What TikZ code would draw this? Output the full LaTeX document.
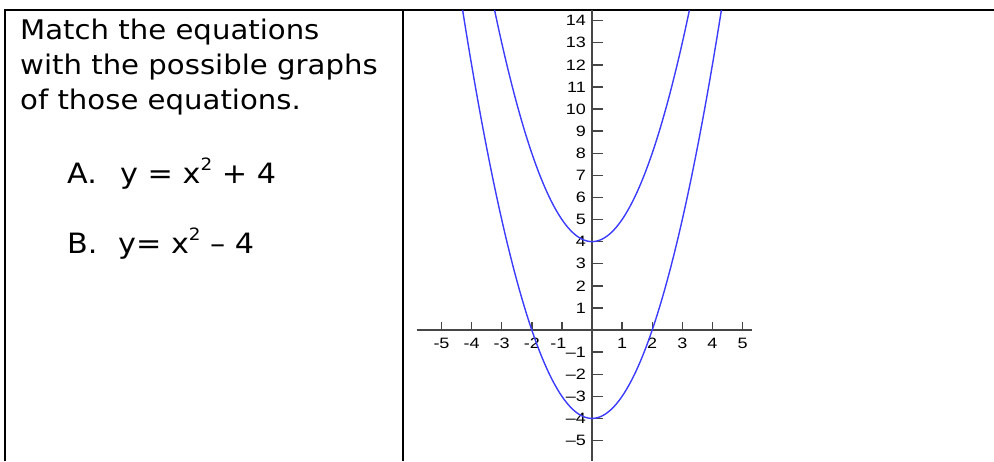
\documentclass[tikz,border=0pt]{standalone}
\usepackage{fontspec}
\newfontfamily\qfont{DejaVu Sans}[FakeStretch=1.08]
\newfontfamily\tickfont{Liberation Sans}[FakeStretch=1.2]
\definecolor{curveblue}{RGB}{60,60,255}
\definecolor{axisgray}{RGB}{70,70,70}
\newcommand{\sqtwo}{\raisebox{0.45em}{\fontsize{17}{17}\selectfont 2}}

\begin{document}
\begin{tikzpicture}[x=1pt, y=-1pt,
    rule/.style={line width=2pt, black},
    qtext/.style={anchor=base west, inner sep=0pt, font=\qfont\fontsize{27}{33}\selectfont},
    eqtext/.style={anchor=base west, inner sep=0pt, font=\qfont\fontsize{28}{34}\selectfont},
    axis/.style={line width=1.4pt, axisgray},
    curve/.style={line width=1.4pt, curveblue},
    ticklab/.style={inner sep=0pt, font=\tickfont\fontsize{15}{17}\selectfont}]
  \useasboundingbox (0,0) rectangle (994,461);

  % table rules
  \draw[rule] (4,10) -- (994,10);
  \draw[rule] (5,10) -- (5,461);
  \draw[rule] (403,10) -- (403,461);

  % question text
  \node[qtext] (line1) at (20,39) {Match the equations};
  \node[qtext] (line2) at (20,74) {with the possible graphs};
  \node[qtext] (line3) at (20,109) {of those equations.};

  % equations
  \node[eqtext] (labA) at (67,183) {A.};
  \node[eqtext] (eqA) at (120,183) {y = x\sqtwo{} + 4};
  \node[eqtext] (labB) at (67,253) {B.};
  \node[eqtext] (eqB) at (118,253) {y= x\sqtwo{} – 4};

  % graph
  \begin{scope}[shift={(592,330)}, x=30.1pt, y=22.1pt]
    % axes
    \draw[axis] (-5.83,0) -- (5.32,0);
    \draw[axis] (0,14.48) -- (0,-5.93);

    % x ticks
    \foreach \t in {-5,...,-2,1,2,...,5} {
      \draw[axis] (\t,0) -- (\t,0.36);
      \node[ticklab] (xlab\t) at (\t,-0.59) {\t};
    }
    \draw[axis] (-1,0) -- (-1,0.36);
    \node[ticklab] (xlab-1) at (-1.12,-0.59) {-1};
    % y ticks
    \foreach \t in {1,...,14} {
      \draw[axis] (0,\t) -- (0.365,\t);
      \node[ticklab, anchor=east] (ylab\t) at (-0.2,\t) {\t};
    }
    \foreach \t in {1,...,5} {
      \draw[axis] (0,-\t) -- (0.365,-\t);
      \node[ticklab, anchor=east] (ylabm\t) at (-0.2,-\t) {–\t};
    }

    % parabolas
    \draw[curve] plot[domain=-3.237:3.237, samples=121, smooth] (\x,{\x*\x+4});
    \draw[curve] plot[domain=-4.299:4.299, samples=121, smooth] (\x,{\x*\x-4});
  \end{scope}
\end{tikzpicture}
\end{document}
